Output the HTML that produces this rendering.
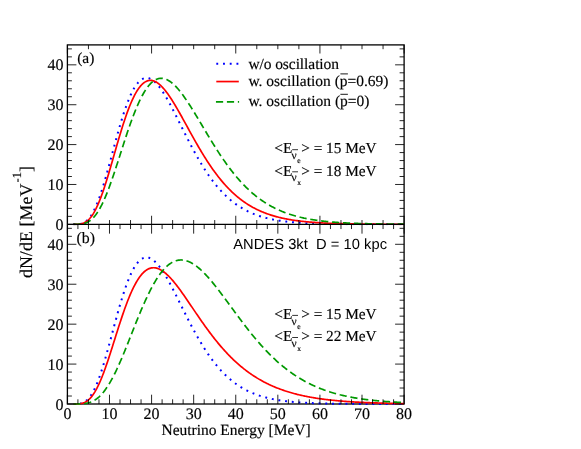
<!DOCTYPE html>
<html><head><meta charset="utf-8"><title>chart</title>
<style>html,body{margin:0;padding:0;background:#fff;overflow:hidden;}svg{display:block;position:absolute;left:0;top:0;will-change:transform;}text{fill:#000;filter:grayscale(1);text-rendering:geometricPrecision;}</style>
</head><body>
<svg width="581" height="449" viewBox="0 0 581 449">
<rect width="581" height="449" fill="#fff"/>
<defs><clipPath id="ca"><rect x="67.4" y="44.9" width="336.70000000000005" height="180.45"/></clipPath><clipPath id="cb"><rect x="67.4" y="224.35" width="336.70000000000005" height="180.65"/></clipPath></defs>

<rect x="67.4" y="44.9" width="336.70000000000005" height="359.1" fill="none" stroke="#000" stroke-width="1.3"/>

<g clip-path="url(#ca)">
<path d="M73.29,224.35 L74.13,224.35 L74.98,224.34 L75.82,224.32 L76.66,224.29 L77.50,224.24 L78.34,224.17 L79.18,224.07 L80.03,223.93 L80.87,223.75 L81.71,223.52 L82.55,223.22 L83.39,222.87 L84.23,222.44 L85.08,221.94 L85.92,221.34 L86.76,220.66 L87.60,219.89 L88.44,219.01 L89.29,218.03 L90.13,216.94 L90.97,215.74 L91.81,214.43 L92.65,213.01 L93.49,211.46 L94.34,209.81 L95.18,208.04 L96.02,206.16 L96.86,204.16 L97.70,202.06 L98.54,199.86 L99.39,197.55 L100.23,195.14 L101.07,192.65 L101.91,190.06 L102.75,187.39 L103.60,184.65 L104.44,181.83 L105.28,178.96 L106.12,176.02 L106.96,173.03 L107.80,170.00 L108.65,166.94 L109.49,163.84 L110.33,160.72 L111.17,157.59 L112.01,154.44 L112.85,151.30 L113.70,148.16 L114.54,145.03 L115.38,141.92 L116.22,138.83 L117.06,135.78 L117.91,132.76 L118.75,129.79 L119.59,126.86 L120.43,123.99 L121.27,121.18 L122.11,118.43 L122.96,115.74 L123.80,113.13 L124.64,110.60 L125.48,108.14 L126.32,105.77 L127.16,103.49 L128.01,101.29 L128.85,99.19 L129.69,97.18 L130.53,95.27 L131.37,93.45 L132.21,91.73 L133.06,90.11 L133.90,88.60 L134.74,87.18 L135.58,85.87 L136.42,84.66 L137.27,83.55 L138.11,82.54 L138.95,81.64 L139.79,80.83 L140.63,80.13 L141.47,79.53 L142.32,79.02 L143.16,78.61 L144.00,78.30 L144.84,78.08 L145.68,77.95 L146.52,77.91 L147.37,77.96 L148.21,78.10 L149.05,78.32 L149.89,78.63 L150.73,79.01 L151.57,79.47 L152.42,80.01 L153.26,80.62 L154.10,81.30 L154.94,82.05 L155.78,82.87 L156.63,83.75 L157.47,84.69 L158.31,85.68 L159.15,86.73 L159.99,87.84 L160.83,89.00 L161.68,90.20 L162.52,91.45 L163.36,92.74 L164.20,94.07 L165.04,95.44 L165.88,96.85 L166.73,98.29 L167.57,99.76 L168.41,101.26 L169.25,102.78 L170.09,104.34 L170.94,105.91 L171.78,107.50 L172.62,109.11 L173.46,110.74 L174.30,112.38 L175.14,114.03 L175.99,115.70 L176.83,117.37 L177.67,119.05 L178.51,120.74 L179.35,122.43 L180.19,124.12 L181.04,125.81 L181.88,127.50 L182.72,129.19 L183.56,130.88 L184.40,132.56 L185.25,134.24 L186.09,135.91 L186.93,137.57 L187.77,139.22 L188.61,140.87 L189.45,142.50 L190.30,144.12 L191.14,145.72 L191.98,147.32 L192.82,148.90 L193.66,150.46 L194.50,152.01 L195.35,153.54 L196.19,155.06 L197.03,156.56 L197.87,158.04 L198.71,159.50 L199.55,160.95 L200.40,162.37 L201.24,163.78 L202.08,165.17 L202.92,166.53 L203.76,167.88 L204.61,169.21 L205.45,170.51 L206.29,171.80 L207.13,173.06 L207.97,174.31 L208.81,175.53 L209.66,176.73 L210.50,177.91 L211.34,179.07 L212.18,180.21 L213.02,181.33 L213.86,182.42 L214.71,183.50 L215.55,184.55 L216.39,185.59 L217.23,186.60 L218.07,187.59 L218.91,188.57 L219.76,189.52 L220.60,190.45 L221.44,191.37 L222.28,192.26 L223.12,193.13 L223.97,193.99 L224.81,194.83 L225.65,195.64 L226.49,196.44 L227.33,197.22 L228.17,197.99 L229.02,198.73 L229.86,199.46 L230.70,200.17 L231.54,200.86 L232.38,201.54 L233.22,202.20 L234.07,202.84 L234.91,203.47 L235.75,204.08 L236.59,204.68 L237.43,205.26 L238.28,205.83 L239.12,206.38 L239.96,206.92 L240.80,207.44 L241.64,207.95 L242.48,208.45 L243.33,208.94 L244.17,209.41 L245.01,209.86 L245.85,210.31 L246.69,210.74 L247.53,211.17 L248.38,211.58 L249.22,211.98 L250.06,212.36 L250.90,212.74 L251.74,213.11 L252.58,213.46 L253.43,213.81 L254.27,214.14 L255.11,214.47 L255.95,214.79 L256.79,215.10 L257.64,215.39 L258.48,215.68 L259.32,215.97 L260.16,216.24 L261.00,216.50 L261.84,216.76 L262.69,217.01 L263.53,217.25 L264.37,217.49 L265.21,217.72 L266.05,217.94 L266.89,218.15 L267.74,218.36 L268.58,218.56 L269.42,218.75 L270.26,218.94 L271.10,219.12 L271.95,219.30 L272.79,219.47 L273.63,219.64 L274.47,219.80 L275.31,219.96 L276.15,220.11 L277.00,220.25 L277.84,220.39 L278.68,220.53 L279.52,220.66 L280.36,220.79 L281.20,220.91 L282.05,221.03 L282.89,221.15 L283.73,221.26 L284.57,221.37 L285.41,221.48 L286.25,221.58 L287.10,221.68 L287.94,221.77 L288.78,221.86 L289.62,221.95 L290.46,222.04 L291.31,222.12 L292.15,222.20 L292.99,222.28 L293.83,222.35 L294.67,222.42 L295.51,222.49 L296.36,222.56 L297.20,222.62 L298.04,222.69 L298.88,222.75 L299.72,222.81 L300.56,222.86 L301.41,222.92 L302.25,222.97 L303.09,223.02 L303.93,223.07 L304.77,223.12 L305.62,223.16 L306.46,223.21 L307.30,223.25 L308.14,223.29 L308.98,223.33 L309.82,223.37 L310.67,223.40 L311.51,223.44 L312.35,223.47 L313.19,223.51 L314.03,223.54 L314.87,223.57 L315.72,223.60 L316.56,223.63 L317.40,223.65 L318.24,223.68 L319.08,223.70 L319.92,223.73 L320.77,223.75 L321.61,223.78 L322.45,223.80 L323.29,223.82 L324.13,223.84 L324.98,223.86 L325.82,223.88 L326.66,223.90 L327.50,223.91 L328.34,223.93 L329.18,223.95 L330.03,223.96 L330.87,223.98 L331.71,223.99 L332.55,224.00 L333.39,224.02 L334.23,224.03 L335.08,224.04 L335.92,224.06 L336.76,224.07 L337.60,224.08 L338.44,224.09 L339.29,224.10 L340.13,224.11 L340.97,224.12 L341.81,224.13 L342.65,224.14 L343.49,224.14 L344.34,224.15 L345.18,224.16 L346.02,224.17 L346.86,224.18 L347.70,224.18 L348.54,224.19 L349.39,224.20 L350.23,224.20 L351.07,224.21 L351.91,224.21 L352.75,224.22 L353.60,224.22 L354.44,224.23 L355.28,224.23 L356.12,224.24 L356.96,224.24 L357.80,224.25 L358.65,224.25 L359.49,224.26 L360.33,224.26 L361.17,224.26 L362.01,224.27 L362.85,224.27 L363.70,224.27 L364.54,224.28 L365.38,224.28 L366.22,224.28 L367.06,224.28 L367.90,224.29 L368.75,224.29 L369.59,224.29 L370.43,224.29 L371.27,224.30 L372.11,224.30 L372.96,224.30 L373.80,224.30 L374.64,224.31 L375.48,224.31 L376.32,224.31 L377.16,224.31 L378.01,224.31 L378.85,224.31 L379.69,224.32 L380.53,224.32 L381.37,224.32 L382.21,224.32 L383.06,224.32 L383.90,224.32 L384.74,224.32 L385.58,224.32 L386.42,224.33 L387.26,224.33 L388.11,224.33 L388.95,224.33 L389.79,224.33 L390.63,224.33 L391.47,224.33 L392.32,224.33 L393.16,224.33 L394.00,224.33 L394.84,224.33 L395.68,224.33 L396.52,224.34 L397.37,224.34 L398.21,224.34 L399.05,224.34 L399.89,224.34 L400.73,224.34 L401.57,224.34 L402.42,224.34 L403.26,224.34 L404.10,224.34" fill="none" stroke="#0000ff" stroke-width="2" stroke-dasharray="1.9 4.82" stroke-dashoffset="0"/>
<path d="M73.29,224.35 L74.13,224.35 L74.98,224.34 L75.82,224.33 L76.66,224.30 L77.50,224.26 L78.34,224.20 L79.18,224.12 L80.03,224.00 L80.87,223.85 L81.71,223.65 L82.55,223.41 L83.39,223.11 L84.23,222.75 L85.08,222.32 L85.92,221.82 L86.76,221.24 L87.60,220.58 L88.44,219.84 L89.29,219.00 L90.13,218.07 L90.97,217.04 L91.81,215.91 L92.65,214.68 L93.49,213.35 L94.34,211.91 L95.18,210.38 L96.02,208.74 L96.86,206.99 L97.70,205.15 L98.54,203.22 L99.39,201.18 L100.23,199.06 L101.07,196.85 L101.91,194.55 L102.75,192.17 L103.60,189.72 L104.44,187.19 L105.28,184.60 L106.12,181.95 L106.96,179.24 L107.80,176.49 L108.65,173.69 L109.49,170.85 L110.33,167.99 L111.17,165.09 L112.01,162.18 L112.85,159.25 L113.70,156.31 L114.54,153.38 L115.38,150.44 L116.22,147.52 L117.06,144.61 L117.91,141.72 L118.75,138.86 L119.59,136.02 L120.43,133.23 L121.27,130.47 L122.11,127.76 L122.96,125.10 L123.80,122.49 L124.64,119.94 L125.48,117.45 L126.32,115.02 L127.16,112.66 L128.01,110.38 L128.85,108.16 L129.69,106.03 L130.53,103.97 L131.37,101.99 L132.21,100.09 L133.06,98.28 L133.90,96.55 L134.74,94.91 L135.58,93.35 L136.42,91.89 L137.27,90.51 L138.11,89.22 L138.95,88.03 L139.79,86.92 L140.63,85.90 L141.47,84.97 L142.32,84.12 L143.16,83.37 L144.00,82.70 L144.84,82.12 L145.68,81.63 L146.52,81.22 L147.37,80.89 L148.21,80.65 L149.05,80.48 L149.89,80.40 L150.73,80.39 L151.57,80.46 L152.42,80.60 L153.26,80.81 L154.10,81.10 L154.94,81.45 L155.78,81.87 L156.63,82.35 L157.47,82.90 L158.31,83.51 L159.15,84.18 L159.99,84.90 L160.83,85.68 L161.68,86.51 L162.52,87.39 L163.36,88.32 L164.20,89.30 L165.04,90.32 L165.88,91.38 L166.73,92.48 L167.57,93.62 L168.41,94.80 L169.25,96.01 L170.09,97.25 L170.94,98.53 L171.78,99.83 L172.62,101.16 L173.46,102.51 L174.30,103.89 L175.14,105.29 L175.99,106.70 L176.83,108.14 L177.67,109.59 L178.51,111.06 L179.35,112.53 L180.19,114.02 L181.04,115.53 L181.88,117.03 L182.72,118.55 L183.56,120.07 L184.40,121.60 L185.25,123.13 L186.09,124.66 L186.93,126.19 L187.77,127.73 L188.61,129.26 L189.45,130.79 L190.30,132.31 L191.14,133.83 L191.98,135.35 L192.82,136.86 L193.66,138.36 L194.50,139.86 L195.35,141.35 L196.19,142.82 L197.03,144.29 L197.87,145.75 L198.71,147.20 L199.55,148.63 L200.40,150.05 L201.24,151.46 L202.08,152.86 L202.92,154.24 L203.76,155.61 L204.61,156.96 L205.45,158.30 L206.29,159.63 L207.13,160.94 L207.97,162.23 L208.81,163.50 L209.66,164.76 L210.50,166.01 L211.34,167.23 L212.18,168.44 L213.02,169.64 L213.86,170.81 L214.71,171.97 L215.55,173.11 L216.39,174.24 L217.23,175.34 L218.07,176.43 L218.91,177.50 L219.76,178.56 L220.60,179.60 L221.44,180.62 L222.28,181.62 L223.12,182.60 L223.97,183.57 L224.81,184.52 L225.65,185.45 L226.49,186.37 L227.33,187.27 L228.17,188.15 L229.02,189.02 L229.86,189.87 L230.70,190.70 L231.54,191.52 L232.38,192.32 L233.22,193.10 L234.07,193.87 L234.91,194.63 L235.75,195.37 L236.59,196.09 L237.43,196.80 L238.28,197.49 L239.12,198.17 L239.96,198.83 L240.80,199.48 L241.64,200.12 L242.48,200.74 L243.33,201.35 L244.17,201.95 L245.01,202.53 L245.85,203.10 L246.69,203.65 L247.53,204.20 L248.38,204.73 L249.22,205.25 L250.06,205.75 L250.90,206.25 L251.74,206.73 L252.58,207.21 L253.43,207.67 L254.27,208.12 L255.11,208.56 L255.95,208.99 L256.79,209.40 L257.64,209.81 L258.48,210.21 L259.32,210.60 L260.16,210.98 L261.00,211.35 L261.84,211.71 L262.69,212.06 L263.53,212.40 L264.37,212.74 L265.21,213.06 L266.05,213.38 L266.89,213.69 L267.74,213.99 L268.58,214.28 L269.42,214.57 L270.26,214.85 L271.10,215.12 L271.95,215.38 L272.79,215.64 L273.63,215.89 L274.47,216.13 L275.31,216.37 L276.15,216.60 L277.00,216.83 L277.84,217.05 L278.68,217.26 L279.52,217.47 L280.36,217.67 L281.20,217.86 L282.05,218.05 L282.89,218.24 L283.73,218.42 L284.57,218.59 L285.41,218.77 L286.25,218.93 L287.10,219.09 L287.94,219.25 L288.78,219.40 L289.62,219.55 L290.46,219.69 L291.31,219.83 L292.15,219.97 L292.99,220.10 L293.83,220.23 L294.67,220.35 L295.51,220.48 L296.36,220.59 L297.20,220.71 L298.04,220.82 L298.88,220.93 L299.72,221.03 L300.56,221.13 L301.41,221.23 L302.25,221.33 L303.09,221.42 L303.93,221.51 L304.77,221.60 L305.62,221.68 L306.46,221.77 L307.30,221.85 L308.14,221.92 L308.98,222.00 L309.82,222.07 L310.67,222.14 L311.51,222.21 L312.35,222.28 L313.19,222.35 L314.03,222.41 L314.87,222.47 L315.72,222.53 L316.56,222.59 L317.40,222.64 L318.24,222.70 L319.08,222.75 L319.92,222.80 L320.77,222.85 L321.61,222.90 L322.45,222.94 L323.29,222.99 L324.13,223.03 L324.98,223.07 L325.82,223.11 L326.66,223.15 L327.50,223.19 L328.34,223.23 L329.18,223.27 L330.03,223.30 L330.87,223.33 L331.71,223.37 L332.55,223.40 L333.39,223.43 L334.23,223.46 L335.08,223.49 L335.92,223.52 L336.76,223.54 L337.60,223.57 L338.44,223.60 L339.29,223.62 L340.13,223.64 L340.97,223.67 L341.81,223.69 L342.65,223.71 L343.49,223.73 L344.34,223.75 L345.18,223.77 L346.02,223.79 L346.86,223.81 L347.70,223.83 L348.54,223.84 L349.39,223.86 L350.23,223.88 L351.07,223.89 L351.91,223.91 L352.75,223.92 L353.60,223.94 L354.44,223.95 L355.28,223.96 L356.12,223.98 L356.96,223.99 L357.80,224.00 L358.65,224.01 L359.49,224.02 L360.33,224.04 L361.17,224.05 L362.01,224.06 L362.85,224.07 L363.70,224.08 L364.54,224.09 L365.38,224.09 L366.22,224.10 L367.06,224.11 L367.90,224.12 L368.75,224.13 L369.59,224.13 L370.43,224.14 L371.27,224.15 L372.11,224.16 L372.96,224.16 L373.80,224.17 L374.64,224.18 L375.48,224.18 L376.32,224.19 L377.16,224.19 L378.01,224.20 L378.85,224.20 L379.69,224.21 L380.53,224.21 L381.37,224.22 L382.21,224.22 L383.06,224.23 L383.90,224.23 L384.74,224.23 L385.58,224.24 L386.42,224.24 L387.26,224.25 L388.11,224.25 L388.95,224.25 L389.79,224.26 L390.63,224.26 L391.47,224.26 L392.32,224.27 L393.16,224.27 L394.00,224.27 L394.84,224.27 L395.68,224.28 L396.52,224.28 L397.37,224.28 L398.21,224.28 L399.05,224.29 L399.89,224.29 L400.73,224.29 L401.57,224.29 L402.42,224.30 L403.26,224.30 L404.10,224.30" fill="none" stroke="#ff0000" stroke-width="1.7"/>
<path d="M73.29,224.35 L74.13,224.35 L74.98,224.35 L75.82,224.34 L76.66,224.32 L77.50,224.30 L78.34,224.27 L79.18,224.22 L80.03,224.16 L80.87,224.07 L81.71,223.96 L82.55,223.82 L83.39,223.65 L84.23,223.44 L85.08,223.18 L85.92,222.88 L86.76,222.54 L87.60,222.13 L88.44,221.68 L89.29,221.16 L90.13,220.57 L90.97,219.92 L91.81,219.20 L92.65,218.41 L93.49,217.54 L94.34,216.60 L95.18,215.58 L96.02,214.48 L96.86,213.30 L97.70,212.04 L98.54,210.69 L99.39,209.27 L100.23,207.77 L101.07,206.19 L101.91,204.54 L102.75,202.81 L103.60,201.00 L104.44,199.12 L105.28,197.17 L106.12,195.15 L106.96,193.07 L107.80,190.93 L108.65,188.72 L109.49,186.47 L110.33,184.16 L111.17,181.80 L112.01,179.39 L112.85,176.95 L113.70,174.47 L114.54,171.96 L115.38,169.41 L116.22,166.85 L117.06,164.26 L117.91,161.66 L118.75,159.04 L119.59,156.42 L120.43,153.79 L121.27,151.16 L122.11,148.53 L122.96,145.92 L123.80,143.31 L124.64,140.72 L125.48,138.15 L126.32,135.61 L127.16,133.09 L128.01,130.60 L128.85,128.14 L129.69,125.72 L130.53,123.33 L131.37,120.99 L132.21,118.70 L133.06,116.45 L133.90,114.25 L134.74,112.11 L135.58,110.02 L136.42,107.99 L137.27,106.01 L138.11,104.10 L138.95,102.24 L139.79,100.46 L140.63,98.73 L141.47,97.08 L142.32,95.49 L143.16,93.97 L144.00,92.51 L144.84,91.13 L145.68,89.82 L146.52,88.58 L147.37,87.41 L148.21,86.31 L149.05,85.29 L149.89,84.33 L150.73,83.45 L151.57,82.64 L152.42,81.90 L153.26,81.23 L154.10,80.63 L154.94,80.11 L155.78,79.65 L156.63,79.26 L157.47,78.93 L158.31,78.68 L159.15,78.49 L159.99,78.36 L160.83,78.30 L161.68,78.30 L162.52,78.36 L163.36,78.49 L164.20,78.67 L165.04,78.91 L165.88,79.21 L166.73,79.56 L167.57,79.97 L168.41,80.42 L169.25,80.93 L170.09,81.49 L170.94,82.10 L171.78,82.76 L172.62,83.46 L173.46,84.20 L174.30,84.99 L175.14,85.82 L175.99,86.68 L176.83,87.59 L177.67,88.53 L178.51,89.51 L179.35,90.52 L180.19,91.56 L181.04,92.63 L181.88,93.73 L182.72,94.86 L183.56,96.02 L184.40,97.20 L185.25,98.40 L186.09,99.63 L186.93,100.87 L187.77,102.14 L188.61,103.42 L189.45,104.72 L190.30,106.04 L191.14,107.37 L191.98,108.71 L192.82,110.07 L193.66,111.44 L194.50,112.81 L195.35,114.20 L196.19,115.59 L197.03,116.99 L197.87,118.39 L198.71,119.80 L199.55,121.22 L200.40,122.63 L201.24,124.05 L202.08,125.47 L202.92,126.88 L203.76,128.30 L204.61,129.72 L205.45,131.13 L206.29,132.54 L207.13,133.94 L207.97,135.35 L208.81,136.74 L209.66,138.13 L210.50,139.52 L211.34,140.89 L212.18,142.26 L213.02,143.62 L213.86,144.97 L214.71,146.32 L215.55,147.65 L216.39,148.97 L217.23,150.29 L218.07,151.59 L218.91,152.88 L219.76,154.16 L220.60,155.43 L221.44,156.69 L222.28,157.93 L223.12,159.16 L223.97,160.38 L224.81,161.58 L225.65,162.77 L226.49,163.95 L227.33,165.11 L228.17,166.26 L229.02,167.40 L229.86,168.52 L230.70,169.63 L231.54,170.72 L232.38,171.80 L233.22,172.86 L234.07,173.91 L234.91,174.94 L235.75,175.96 L236.59,176.97 L237.43,177.96 L238.28,178.93 L239.12,179.89 L239.96,180.84 L240.80,181.77 L241.64,182.68 L242.48,183.58 L243.33,184.47 L244.17,185.34 L245.01,186.20 L245.85,187.04 L246.69,187.87 L247.53,188.69 L248.38,189.49 L249.22,190.27 L250.06,191.04 L250.90,191.80 L251.74,192.55 L252.58,193.28 L253.43,194.00 L254.27,194.70 L255.11,195.39 L255.95,196.07 L256.79,196.73 L257.64,197.39 L258.48,198.03 L259.32,198.65 L260.16,199.27 L261.00,199.87 L261.84,200.46 L262.69,201.04 L263.53,201.60 L264.37,202.16 L265.21,202.70 L266.05,203.24 L266.89,203.76 L267.74,204.27 L268.58,204.77 L269.42,205.25 L270.26,205.73 L271.10,206.20 L271.95,206.66 L272.79,207.11 L273.63,207.54 L274.47,207.97 L275.31,208.39 L276.15,208.80 L277.00,209.20 L277.84,209.59 L278.68,209.97 L279.52,210.35 L280.36,210.71 L281.20,211.07 L282.05,211.42 L282.89,211.76 L283.73,212.09 L284.57,212.42 L285.41,212.73 L286.25,213.04 L287.10,213.34 L287.94,213.64 L288.78,213.93 L289.62,214.21 L290.46,214.48 L291.31,214.75 L292.15,215.01 L292.99,215.26 L293.83,215.51 L294.67,215.75 L295.51,215.99 L296.36,216.22 L297.20,216.44 L298.04,216.66 L298.88,216.88 L299.72,217.08 L300.56,217.29 L301.41,217.48 L302.25,217.68 L303.09,217.86 L303.93,218.05 L304.77,218.22 L305.62,218.40 L306.46,218.57 L307.30,218.73 L308.14,218.89 L308.98,219.05 L309.82,219.20 L310.67,219.35 L311.51,219.49 L312.35,219.63 L313.19,219.77 L314.03,219.90 L314.87,220.03 L315.72,220.15 L316.56,220.27 L317.40,220.39 L318.24,220.51 L319.08,220.62 L319.92,220.73 L320.77,220.84 L321.61,220.94 L322.45,221.04 L323.29,221.14 L324.13,221.23 L324.98,221.33 L325.82,221.42 L326.66,221.50 L327.50,221.59 L328.34,221.67 L329.18,221.75 L330.03,221.83 L330.87,221.91 L331.71,221.98 L332.55,222.05 L333.39,222.12 L334.23,222.19 L335.08,222.25 L335.92,222.32 L336.76,222.38 L337.60,222.44 L338.44,222.50 L339.29,222.55 L340.13,222.61 L340.97,222.66 L341.81,222.72 L342.65,222.77 L343.49,222.81 L344.34,222.86 L345.18,222.91 L346.02,222.95 L346.86,223.00 L347.70,223.04 L348.54,223.08 L349.39,223.12 L350.23,223.16 L351.07,223.19 L351.91,223.23 L352.75,223.27 L353.60,223.30 L354.44,223.33 L355.28,223.37 L356.12,223.40 L356.96,223.43 L357.80,223.46 L358.65,223.48 L359.49,223.51 L360.33,223.54 L361.17,223.56 L362.01,223.59 L362.85,223.61 L363.70,223.64 L364.54,223.66 L365.38,223.68 L366.22,223.70 L367.06,223.72 L367.90,223.74 L368.75,223.76 L369.59,223.78 L370.43,223.80 L371.27,223.82 L372.11,223.84 L372.96,223.85 L373.80,223.87 L374.64,223.89 L375.48,223.90 L376.32,223.91 L377.16,223.93 L378.01,223.94 L378.85,223.96 L379.69,223.97 L380.53,223.98 L381.37,223.99 L382.21,224.01 L383.06,224.02 L383.90,224.03 L384.74,224.04 L385.58,224.05 L386.42,224.06 L387.26,224.07 L388.11,224.08 L388.95,224.09 L389.79,224.10 L390.63,224.10 L391.47,224.11 L392.32,224.12 L393.16,224.13 L394.00,224.14 L394.84,224.14 L395.68,224.15 L396.52,224.16 L397.37,224.16 L398.21,224.17 L399.05,224.18 L399.89,224.18 L400.73,224.19 L401.57,224.19 L402.42,224.20 L403.26,224.20 L404.10,224.21" fill="none" stroke="#009900" stroke-width="1.7" stroke-dasharray="7.2 3.75"/>
</g>
<line x1="67.40" y1="224.35" x2="404.10" y2="224.35" stroke="#000" stroke-width="1.15"/>

<g clip-path="url(#cb)">
<path d="M73.29,404.00 L74.13,404.00 L74.98,403.99 L75.82,403.97 L76.66,403.94 L77.50,403.89 L78.34,403.82 L79.18,403.72 L80.03,403.58 L80.87,403.40 L81.71,403.17 L82.55,402.87 L83.39,402.52 L84.23,402.09 L85.08,401.58 L85.92,400.99 L86.76,400.31 L87.60,399.53 L88.44,398.66 L89.29,397.67 L90.13,396.58 L90.97,395.38 L91.81,394.07 L92.65,392.64 L93.49,391.10 L94.34,389.44 L95.18,387.67 L96.02,385.79 L96.86,383.79 L97.70,381.69 L98.54,379.48 L99.39,377.17 L100.23,374.76 L101.07,372.26 L101.91,369.67 L102.75,367.00 L103.60,364.25 L104.44,361.44 L105.28,358.55 L106.12,355.62 L106.96,352.63 L107.80,349.59 L108.65,346.52 L109.49,343.42 L110.33,340.30 L111.17,337.16 L112.01,334.01 L112.85,330.87 L113.70,327.72 L114.54,324.59 L115.38,321.48 L116.22,318.39 L117.06,315.33 L117.91,312.31 L118.75,309.33 L119.59,306.40 L120.43,303.53 L121.27,300.71 L122.11,297.96 L122.96,295.27 L123.80,292.66 L124.64,290.12 L125.48,287.67 L126.32,285.29 L127.16,283.00 L128.01,280.81 L128.85,278.70 L129.69,276.69 L130.53,274.77 L131.37,272.95 L132.21,271.23 L133.06,269.61 L133.90,268.10 L134.74,266.68 L135.58,265.36 L136.42,264.15 L137.27,263.04 L138.11,262.03 L138.95,261.13 L139.79,260.32 L140.63,259.62 L141.47,259.01 L142.32,258.51 L143.16,258.10 L144.00,257.78 L144.84,257.56 L145.68,257.44 L146.52,257.40 L147.37,257.45 L148.21,257.59 L149.05,257.81 L149.89,258.12 L150.73,258.50 L151.57,258.96 L152.42,259.50 L153.26,260.11 L154.10,260.80 L154.94,261.55 L155.78,262.36 L156.63,263.24 L157.47,264.18 L158.31,265.18 L159.15,266.23 L159.99,267.34 L160.83,268.49 L161.68,269.70 L162.52,270.95 L163.36,272.24 L164.20,273.58 L165.04,274.95 L165.88,276.36 L166.73,277.80 L167.57,279.27 L168.41,280.77 L169.25,282.30 L170.09,283.85 L170.94,285.43 L171.78,287.02 L172.62,288.63 L173.46,290.26 L174.30,291.91 L175.14,293.56 L175.99,295.23 L176.83,296.90 L177.67,298.58 L178.51,300.27 L179.35,301.96 L180.19,303.66 L181.04,305.35 L181.88,307.05 L182.72,308.74 L183.56,310.43 L184.40,312.11 L185.25,313.79 L186.09,315.46 L186.93,317.12 L187.77,318.78 L188.61,320.42 L189.45,322.06 L190.30,323.68 L191.14,325.29 L191.98,326.88 L192.82,328.46 L193.66,330.03 L194.50,331.58 L195.35,333.12 L196.19,334.63 L197.03,336.13 L197.87,337.62 L198.71,339.08 L199.55,340.53 L200.40,341.96 L201.24,343.36 L202.08,344.75 L202.92,346.12 L203.76,347.47 L204.61,348.80 L205.45,350.10 L206.29,351.39 L207.13,352.65 L207.97,353.90 L208.81,355.12 L209.66,356.33 L210.50,357.51 L211.34,358.67 L212.18,359.81 L213.02,360.93 L213.86,362.03 L214.71,363.10 L215.55,364.16 L216.39,365.19 L217.23,366.21 L218.07,367.20 L218.91,368.18 L219.76,369.13 L220.60,370.07 L221.44,370.98 L222.28,371.87 L223.12,372.75 L223.97,373.61 L224.81,374.44 L225.65,375.26 L226.49,376.06 L227.33,376.84 L228.17,377.61 L229.02,378.35 L229.86,379.08 L230.70,379.79 L231.54,380.49 L232.38,381.16 L233.22,381.82 L234.07,382.47 L234.91,383.10 L235.75,383.71 L236.59,384.31 L237.43,384.89 L238.28,385.46 L239.12,386.01 L239.96,386.55 L240.80,387.08 L241.64,387.59 L242.48,388.08 L243.33,388.57 L244.17,389.04 L245.01,389.50 L245.85,389.94 L246.69,390.38 L247.53,390.80 L248.38,391.21 L249.22,391.61 L250.06,392.00 L250.90,392.38 L251.74,392.74 L252.58,393.10 L253.43,393.45 L254.27,393.78 L255.11,394.11 L255.95,394.43 L256.79,394.74 L257.64,395.03 L258.48,395.33 L259.32,395.61 L260.16,395.88 L261.00,396.15 L261.84,396.40 L262.69,396.65 L263.53,396.90 L264.37,397.13 L265.21,397.36 L266.05,397.58 L266.89,397.79 L267.74,398.00 L268.58,398.20 L269.42,398.40 L270.26,398.59 L271.10,398.77 L271.95,398.95 L272.79,399.12 L273.63,399.28 L274.47,399.44 L275.31,399.60 L276.15,399.75 L277.00,399.90 L277.84,400.04 L278.68,400.18 L279.52,400.31 L280.36,400.44 L281.20,400.56 L282.05,400.68 L282.89,400.80 L283.73,400.91 L284.57,401.02 L285.41,401.12 L286.25,401.22 L287.10,401.32 L287.94,401.42 L288.78,401.51 L289.62,401.60 L290.46,401.68 L291.31,401.77 L292.15,401.85 L292.99,401.92 L293.83,402.00 L294.67,402.07 L295.51,402.14 L296.36,402.21 L297.20,402.27 L298.04,402.33 L298.88,402.40 L299.72,402.45 L300.56,402.51 L301.41,402.56 L302.25,402.62 L303.09,402.67 L303.93,402.72 L304.77,402.76 L305.62,402.81 L306.46,402.85 L307.30,402.90 L308.14,402.94 L308.98,402.98 L309.82,403.01 L310.67,403.05 L311.51,403.09 L312.35,403.12 L313.19,403.15 L314.03,403.19 L314.87,403.22 L315.72,403.25 L316.56,403.27 L317.40,403.30 L318.24,403.33 L319.08,403.35 L319.92,403.38 L320.77,403.40 L321.61,403.42 L322.45,403.45 L323.29,403.47 L324.13,403.49 L324.98,403.51 L325.82,403.53 L326.66,403.54 L327.50,403.56 L328.34,403.58 L329.18,403.60 L330.03,403.61 L330.87,403.63 L331.71,403.64 L332.55,403.65 L333.39,403.67 L334.23,403.68 L335.08,403.69 L335.92,403.71 L336.76,403.72 L337.60,403.73 L338.44,403.74 L339.29,403.75 L340.13,403.76 L340.97,403.77 L341.81,403.78 L342.65,403.79 L343.49,403.79 L344.34,403.80 L345.18,403.81 L346.02,403.82 L346.86,403.83 L347.70,403.83 L348.54,403.84 L349.39,403.85 L350.23,403.85 L351.07,403.86 L351.91,403.86 L352.75,403.87 L353.60,403.87 L354.44,403.88 L355.28,403.88 L356.12,403.89 L356.96,403.89 L357.80,403.90 L358.65,403.90 L359.49,403.91 L360.33,403.91 L361.17,403.91 L362.01,403.92 L362.85,403.92 L363.70,403.92 L364.54,403.93 L365.38,403.93 L366.22,403.93 L367.06,403.93 L367.90,403.94 L368.75,403.94 L369.59,403.94 L370.43,403.94 L371.27,403.95 L372.11,403.95 L372.96,403.95 L373.80,403.95 L374.64,403.96 L375.48,403.96 L376.32,403.96 L377.16,403.96 L378.01,403.96 L378.85,403.96 L379.69,403.97 L380.53,403.97 L381.37,403.97 L382.21,403.97 L383.06,403.97 L383.90,403.97 L384.74,403.97 L385.58,403.97 L386.42,403.98 L387.26,403.98 L388.11,403.98 L388.95,403.98 L389.79,403.98 L390.63,403.98 L391.47,403.98 L392.32,403.98 L393.16,403.98 L394.00,403.98 L394.84,403.98 L395.68,403.98 L396.52,403.99 L397.37,403.99 L398.21,403.99 L399.05,403.99 L399.89,403.99 L400.73,403.99 L401.57,403.99 L402.42,403.99 L403.26,403.99 L404.10,403.99" fill="none" stroke="#0000ff" stroke-width="2" stroke-dasharray="1.9 4.82" stroke-dashoffset="0"/>
<path d="M73.29,404.00 L74.13,404.00 L74.98,403.99 L75.82,403.98 L76.66,403.96 L77.50,403.92 L78.34,403.87 L79.18,403.79 L80.03,403.69 L80.87,403.55 L81.71,403.37 L82.55,403.15 L83.39,402.88 L84.23,402.56 L85.08,402.17 L85.92,401.73 L86.76,401.21 L87.60,400.61 L88.44,399.94 L89.29,399.19 L90.13,398.35 L90.97,397.43 L91.81,396.41 L92.65,395.31 L93.49,394.11 L94.34,392.82 L95.18,391.44 L96.02,389.96 L96.86,388.40 L97.70,386.74 L98.54,385.00 L99.39,383.17 L100.23,381.26 L101.07,379.26 L101.91,377.20 L102.75,375.05 L103.60,372.84 L104.44,370.56 L105.28,368.23 L106.12,365.83 L106.96,363.39 L107.80,360.90 L108.65,358.36 L109.49,355.79 L110.33,353.19 L111.17,350.57 L112.01,347.92 L112.85,345.26 L113.70,342.59 L114.54,339.91 L115.38,337.23 L116.22,334.55 L117.06,331.89 L117.91,329.24 L118.75,326.61 L119.59,324.00 L120.43,321.42 L121.27,318.87 L122.11,316.36 L122.96,313.88 L123.80,311.45 L124.64,309.06 L125.48,306.73 L126.32,304.45 L127.16,302.22 L128.01,300.05 L128.85,297.94 L129.69,295.89 L130.53,293.91 L131.37,292.00 L132.21,290.15 L133.06,288.37 L133.90,286.67 L134.74,285.04 L135.58,283.48 L136.42,281.99 L137.27,280.58 L138.11,279.24 L138.95,277.98 L139.79,276.79 L140.63,275.68 L141.47,274.65 L142.32,273.69 L143.16,272.81 L144.00,271.99 L144.84,271.26 L145.68,270.59 L146.52,270.00 L147.37,269.48 L148.21,269.03 L149.05,268.65 L149.89,268.34 L150.73,268.10 L151.57,267.92 L152.42,267.80 L153.26,267.75 L154.10,267.76 L154.94,267.83 L155.78,267.96 L156.63,268.15 L157.47,268.39 L158.31,268.68 L159.15,269.03 L159.99,269.43 L160.83,269.88 L161.68,270.38 L162.52,270.92 L163.36,271.50 L164.20,272.13 L165.04,272.80 L165.88,273.51 L166.73,274.26 L167.57,275.05 L168.41,275.86 L169.25,276.72 L170.09,277.60 L170.94,278.51 L171.78,279.45 L172.62,280.42 L173.46,281.42 L174.30,282.43 L175.14,283.48 L175.99,284.54 L176.83,285.62 L177.67,286.72 L178.51,287.84 L179.35,288.97 L180.19,290.12 L181.04,291.28 L181.88,292.46 L182.72,293.64 L183.56,294.84 L184.40,296.05 L185.25,297.26 L186.09,298.48 L186.93,299.71 L187.77,300.94 L188.61,302.18 L189.45,303.42 L190.30,304.66 L191.14,305.90 L191.98,307.15 L192.82,308.39 L193.66,309.63 L194.50,310.88 L195.35,312.12 L196.19,313.36 L197.03,314.59 L197.87,315.82 L198.71,317.05 L199.55,318.27 L200.40,319.49 L201.24,320.70 L202.08,321.90 L202.92,323.10 L203.76,324.29 L204.61,325.47 L205.45,326.64 L206.29,327.81 L207.13,328.97 L207.97,330.12 L208.81,331.25 L209.66,332.38 L210.50,333.50 L211.34,334.61 L212.18,335.71 L213.02,336.80 L213.86,337.88 L214.71,338.95 L215.55,340.00 L216.39,341.05 L217.23,342.08 L218.07,343.11 L218.91,344.12 L219.76,345.12 L220.60,346.11 L221.44,347.08 L222.28,348.05 L223.12,349.00 L223.97,349.94 L224.81,350.87 L225.65,351.79 L226.49,352.70 L227.33,353.59 L228.17,354.47 L229.02,355.34 L229.86,356.20 L230.70,357.05 L231.54,357.88 L232.38,358.71 L233.22,359.52 L234.07,360.32 L234.91,361.11 L235.75,361.89 L236.59,362.65 L237.43,363.41 L238.28,364.15 L239.12,364.88 L239.96,365.60 L240.80,366.31 L241.64,367.01 L242.48,367.70 L243.33,368.38 L244.17,369.05 L245.01,369.70 L245.85,370.35 L246.69,370.98 L247.53,371.61 L248.38,372.23 L249.22,372.83 L250.06,373.43 L250.90,374.01 L251.74,374.59 L252.58,375.15 L253.43,375.71 L254.27,376.26 L255.11,376.80 L255.95,377.33 L256.79,377.85 L257.64,378.36 L258.48,378.86 L259.32,379.36 L260.16,379.84 L261.00,380.32 L261.84,380.79 L262.69,381.25 L263.53,381.70 L264.37,382.14 L265.21,382.58 L266.05,383.01 L266.89,383.43 L267.74,383.84 L268.58,384.25 L269.42,384.65 L270.26,385.04 L271.10,385.42 L271.95,385.80 L272.79,386.17 L273.63,386.54 L274.47,386.89 L275.31,387.24 L276.15,387.59 L277.00,387.92 L277.84,388.26 L278.68,388.58 L279.52,388.90 L280.36,389.21 L281.20,389.52 L282.05,389.82 L282.89,390.12 L283.73,390.41 L284.57,390.69 L285.41,390.97 L286.25,391.24 L287.10,391.51 L287.94,391.78 L288.78,392.03 L289.62,392.29 L290.46,392.54 L291.31,392.78 L292.15,393.02 L292.99,393.25 L293.83,393.48 L294.67,393.71 L295.51,393.93 L296.36,394.14 L297.20,394.36 L298.04,394.56 L298.88,394.77 L299.72,394.97 L300.56,395.16 L301.41,395.36 L302.25,395.54 L303.09,395.73 L303.93,395.91 L304.77,396.09 L305.62,396.26 L306.46,396.43 L307.30,396.59 L308.14,396.76 L308.98,396.92 L309.82,397.07 L310.67,397.23 L311.51,397.38 L312.35,397.52 L313.19,397.67 L314.03,397.81 L314.87,397.95 L315.72,398.08 L316.56,398.22 L317.40,398.34 L318.24,398.47 L319.08,398.60 L319.92,398.72 L320.77,398.84 L321.61,398.95 L322.45,399.07 L323.29,399.18 L324.13,399.29 L324.98,399.40 L325.82,399.50 L326.66,399.60 L327.50,399.70 L328.34,399.80 L329.18,399.90 L330.03,399.99 L330.87,400.09 L331.71,400.18 L332.55,400.26 L333.39,400.35 L334.23,400.44 L335.08,400.52 L335.92,400.60 L336.76,400.68 L337.60,400.76 L338.44,400.83 L339.29,400.90 L340.13,400.98 L340.97,401.05 L341.81,401.12 L342.65,401.19 L343.49,401.25 L344.34,401.32 L345.18,401.38 L346.02,401.44 L346.86,401.50 L347.70,401.56 L348.54,401.62 L349.39,401.68 L350.23,401.73 L351.07,401.79 L351.91,401.84 L352.75,401.89 L353.60,401.94 L354.44,401.99 L355.28,402.04 L356.12,402.09 L356.96,402.13 L357.80,402.18 L358.65,402.22 L359.49,402.26 L360.33,402.31 L361.17,402.35 L362.01,402.39 L362.85,402.43 L363.70,402.47 L364.54,402.50 L365.38,402.54 L366.22,402.57 L367.06,402.61 L367.90,402.64 L368.75,402.68 L369.59,402.71 L370.43,402.74 L371.27,402.77 L372.11,402.80 L372.96,402.83 L373.80,402.86 L374.64,402.89 L375.48,402.92 L376.32,402.94 L377.16,402.97 L378.01,403.00 L378.85,403.02 L379.69,403.05 L380.53,403.07 L381.37,403.09 L382.21,403.12 L383.06,403.14 L383.90,403.16 L384.74,403.18 L385.58,403.20 L386.42,403.22 L387.26,403.24 L388.11,403.26 L388.95,403.28 L389.79,403.30 L390.63,403.32 L391.47,403.33 L392.32,403.35 L393.16,403.37 L394.00,403.38 L394.84,403.40 L395.68,403.41 L396.52,403.43 L397.37,403.44 L398.21,403.46 L399.05,403.47 L399.89,403.49 L400.73,403.50 L401.57,403.51 L402.42,403.52 L403.26,403.54 L404.10,403.55" fill="none" stroke="#ff0000" stroke-width="1.7"/>
<path d="M73.29,404.00 L74.13,404.00 L74.98,404.00 L75.82,404.00 L76.66,403.99 L77.50,403.98 L78.34,403.97 L79.18,403.95 L80.03,403.92 L80.87,403.88 L81.71,403.84 L82.55,403.77 L83.39,403.70 L84.23,403.61 L85.08,403.49 L85.92,403.36 L86.76,403.20 L87.60,403.02 L88.44,402.80 L89.29,402.56 L90.13,402.28 L90.97,401.97 L91.81,401.62 L92.65,401.23 L93.49,400.81 L94.34,400.33 L95.18,399.82 L96.02,399.26 L96.86,398.65 L97.70,397.99 L98.54,397.28 L99.39,396.53 L100.23,395.72 L101.07,394.86 L101.91,393.94 L102.75,392.97 L103.60,391.95 L104.44,390.88 L105.28,389.75 L106.12,388.57 L106.96,387.34 L107.80,386.05 L108.65,384.72 L109.49,383.33 L110.33,381.89 L111.17,380.41 L112.01,378.87 L112.85,377.29 L113.70,375.67 L114.54,374.00 L115.38,372.29 L116.22,370.54 L117.06,368.75 L117.91,366.92 L118.75,365.06 L119.59,363.17 L120.43,361.24 L121.27,359.29 L122.11,357.31 L122.96,355.30 L123.80,353.27 L124.64,351.23 L125.48,349.16 L126.32,347.08 L127.16,344.98 L128.01,342.88 L128.85,340.76 L129.69,338.64 L130.53,336.52 L131.37,334.39 L132.21,332.26 L133.06,330.13 L133.90,328.01 L134.74,325.90 L135.58,323.79 L136.42,321.69 L137.27,319.61 L138.11,317.54 L138.95,315.49 L139.79,313.46 L140.63,311.44 L141.47,309.45 L142.32,307.48 L143.16,305.54 L144.00,303.63 L144.84,301.74 L145.68,299.88 L146.52,298.06 L147.37,296.27 L148.21,294.51 L149.05,292.79 L149.89,291.10 L150.73,289.46 L151.57,287.85 L152.42,286.28 L153.26,284.75 L154.10,283.26 L154.94,281.82 L155.78,280.42 L156.63,279.06 L157.47,277.75 L158.31,276.49 L159.15,275.27 L159.99,274.09 L160.83,272.96 L161.68,271.88 L162.52,270.85 L163.36,269.86 L164.20,268.92 L165.04,268.03 L165.88,267.19 L166.73,266.39 L167.57,265.64 L168.41,264.94 L169.25,264.29 L170.09,263.68 L170.94,263.12 L171.78,262.61 L172.62,262.14 L173.46,261.73 L174.30,261.35 L175.14,261.03 L175.99,260.74 L176.83,260.51 L177.67,260.31 L178.51,260.16 L179.35,260.06 L180.19,259.99 L181.04,259.97 L181.88,259.99 L182.72,260.05 L183.56,260.15 L184.40,260.29 L185.25,260.47 L186.09,260.69 L186.93,260.95 L187.77,261.24 L188.61,261.56 L189.45,261.93 L190.30,262.32 L191.14,262.75 L191.98,263.22 L192.82,263.71 L193.66,264.24 L194.50,264.79 L195.35,265.38 L196.19,266.00 L197.03,266.64 L197.87,267.31 L198.71,268.01 L199.55,268.73 L200.40,269.47 L201.24,270.25 L202.08,271.04 L202.92,271.86 L203.76,272.69 L204.61,273.55 L205.45,274.43 L206.29,275.33 L207.13,276.24 L207.97,277.18 L208.81,278.13 L209.66,279.09 L210.50,280.07 L211.34,281.07 L212.18,282.08 L213.02,283.10 L213.86,284.14 L214.71,285.18 L215.55,286.24 L216.39,287.31 L217.23,288.38 L218.07,289.47 L218.91,290.57 L219.76,291.67 L220.60,292.78 L221.44,293.89 L222.28,295.01 L223.12,296.14 L223.97,297.27 L224.81,298.41 L225.65,299.55 L226.49,300.69 L227.33,301.83 L228.17,302.98 L229.02,304.13 L229.86,305.28 L230.70,306.43 L231.54,307.58 L232.38,308.73 L233.22,309.87 L234.07,311.02 L234.91,312.17 L235.75,313.31 L236.59,314.45 L237.43,315.59 L238.28,316.72 L239.12,317.85 L239.96,318.98 L240.80,320.10 L241.64,321.22 L242.48,322.33 L243.33,323.44 L244.17,324.54 L245.01,325.64 L245.85,326.73 L246.69,327.82 L247.53,328.89 L248.38,329.96 L249.22,331.03 L250.06,332.08 L250.90,333.13 L251.74,334.18 L252.58,335.21 L253.43,336.24 L254.27,337.25 L255.11,338.26 L255.95,339.26 L256.79,340.26 L257.64,341.24 L258.48,342.22 L259.32,343.18 L260.16,344.14 L261.00,345.09 L261.84,346.03 L262.69,346.95 L263.53,347.87 L264.37,348.78 L265.21,349.69 L266.05,350.58 L266.89,351.46 L267.74,352.33 L268.58,353.19 L269.42,354.05 L270.26,354.89 L271.10,355.72 L271.95,356.54 L272.79,357.36 L273.63,358.16 L274.47,358.95 L275.31,359.74 L276.15,360.51 L277.00,361.27 L277.84,362.03 L278.68,362.77 L279.52,363.51 L280.36,364.23 L281.20,364.95 L282.05,365.65 L282.89,366.35 L283.73,367.03 L284.57,367.71 L285.41,368.37 L286.25,369.03 L287.10,369.68 L287.94,370.32 L288.78,370.95 L289.62,371.57 L290.46,372.18 L291.31,372.78 L292.15,373.37 L292.99,373.96 L293.83,374.53 L294.67,375.10 L295.51,375.65 L296.36,376.20 L297.20,376.74 L298.04,377.27 L298.88,377.79 L299.72,378.31 L300.56,378.81 L301.41,379.31 L302.25,379.80 L303.09,380.28 L303.93,380.75 L304.77,381.22 L305.62,381.68 L306.46,382.13 L307.30,382.57 L308.14,383.00 L308.98,383.43 L309.82,383.85 L310.67,384.26 L311.51,384.67 L312.35,385.07 L313.19,385.46 L314.03,385.84 L314.87,386.22 L315.72,386.59 L316.56,386.95 L317.40,387.31 L318.24,387.66 L319.08,388.01 L319.92,388.35 L320.77,388.68 L321.61,389.00 L322.45,389.32 L323.29,389.64 L324.13,389.94 L324.98,390.25 L325.82,390.54 L326.66,390.83 L327.50,391.12 L328.34,391.40 L329.18,391.67 L330.03,391.94 L330.87,392.21 L331.71,392.46 L332.55,392.72 L333.39,392.97 L334.23,393.21 L335.08,393.45 L335.92,393.68 L336.76,393.91 L337.60,394.14 L338.44,394.36 L339.29,394.57 L340.13,394.79 L340.97,394.99 L341.81,395.20 L342.65,395.40 L343.49,395.59 L344.34,395.78 L345.18,395.97 L346.02,396.15 L346.86,396.33 L347.70,396.51 L348.54,396.68 L349.39,396.85 L350.23,397.01 L351.07,397.17 L351.91,397.33 L352.75,397.49 L353.60,397.64 L354.44,397.79 L355.28,397.93 L356.12,398.07 L356.96,398.21 L357.80,398.35 L358.65,398.48 L359.49,398.61 L360.33,398.74 L361.17,398.86 L362.01,398.98 L362.85,399.10 L363.70,399.22 L364.54,399.33 L365.38,399.45 L366.22,399.55 L367.06,399.66 L367.90,399.76 L368.75,399.87 L369.59,399.97 L370.43,400.06 L371.27,400.16 L372.11,400.25 L372.96,400.34 L373.80,400.43 L374.64,400.52 L375.48,400.60 L376.32,400.69 L377.16,400.77 L378.01,400.85 L378.85,400.92 L379.69,401.00 L380.53,401.07 L381.37,401.15 L382.21,401.22 L383.06,401.29 L383.90,401.35 L384.74,401.42 L385.58,401.48 L386.42,401.55 L387.26,401.61 L388.11,401.67 L388.95,401.72 L389.79,401.78 L390.63,401.84 L391.47,401.89 L392.32,401.94 L393.16,402.00 L394.00,402.05 L394.84,402.10 L395.68,402.14 L396.52,402.19 L397.37,402.24 L398.21,402.28 L399.05,402.33 L399.89,402.37 L400.73,402.41 L401.57,402.45 L402.42,402.49 L403.26,402.53 L404.10,402.57" fill="none" stroke="#009900" stroke-width="1.7" stroke-dasharray="7.2 3.75"/>
</g>
<line x1="67.40" y1="44.90" x2="67.40" y2="53.50" stroke="#000" stroke-width="0.85"/>
<line x1="67.40" y1="224.35" x2="67.40" y2="215.75" stroke="#000" stroke-width="0.85"/>
<line x1="88.44" y1="44.90" x2="88.44" y2="49.20" stroke="#000" stroke-width="0.85"/>
<line x1="88.44" y1="224.35" x2="88.44" y2="220.05" stroke="#000" stroke-width="0.85"/>
<line x1="109.49" y1="44.90" x2="109.49" y2="49.20" stroke="#000" stroke-width="0.85"/>
<line x1="109.49" y1="224.35" x2="109.49" y2="220.05" stroke="#000" stroke-width="0.85"/>
<line x1="130.53" y1="44.90" x2="130.53" y2="49.20" stroke="#000" stroke-width="0.85"/>
<line x1="130.53" y1="224.35" x2="130.53" y2="220.05" stroke="#000" stroke-width="0.85"/>
<line x1="151.58" y1="44.90" x2="151.58" y2="53.50" stroke="#000" stroke-width="0.85"/>
<line x1="151.58" y1="224.35" x2="151.58" y2="215.75" stroke="#000" stroke-width="0.85"/>
<line x1="172.62" y1="44.90" x2="172.62" y2="49.20" stroke="#000" stroke-width="0.85"/>
<line x1="172.62" y1="224.35" x2="172.62" y2="220.05" stroke="#000" stroke-width="0.85"/>
<line x1="193.66" y1="44.90" x2="193.66" y2="49.20" stroke="#000" stroke-width="0.85"/>
<line x1="193.66" y1="224.35" x2="193.66" y2="220.05" stroke="#000" stroke-width="0.85"/>
<line x1="214.71" y1="44.90" x2="214.71" y2="49.20" stroke="#000" stroke-width="0.85"/>
<line x1="214.71" y1="224.35" x2="214.71" y2="220.05" stroke="#000" stroke-width="0.85"/>
<line x1="235.75" y1="44.90" x2="235.75" y2="53.50" stroke="#000" stroke-width="0.85"/>
<line x1="235.75" y1="224.35" x2="235.75" y2="215.75" stroke="#000" stroke-width="0.85"/>
<line x1="256.79" y1="44.90" x2="256.79" y2="49.20" stroke="#000" stroke-width="0.85"/>
<line x1="256.79" y1="224.35" x2="256.79" y2="220.05" stroke="#000" stroke-width="0.85"/>
<line x1="277.84" y1="44.90" x2="277.84" y2="49.20" stroke="#000" stroke-width="0.85"/>
<line x1="277.84" y1="224.35" x2="277.84" y2="220.05" stroke="#000" stroke-width="0.85"/>
<line x1="298.88" y1="44.90" x2="298.88" y2="49.20" stroke="#000" stroke-width="0.85"/>
<line x1="298.88" y1="224.35" x2="298.88" y2="220.05" stroke="#000" stroke-width="0.85"/>
<line x1="319.93" y1="44.90" x2="319.93" y2="53.50" stroke="#000" stroke-width="0.85"/>
<line x1="319.93" y1="224.35" x2="319.93" y2="215.75" stroke="#000" stroke-width="0.85"/>
<line x1="340.97" y1="44.90" x2="340.97" y2="49.20" stroke="#000" stroke-width="0.85"/>
<line x1="340.97" y1="224.35" x2="340.97" y2="220.05" stroke="#000" stroke-width="0.85"/>
<line x1="362.01" y1="44.90" x2="362.01" y2="49.20" stroke="#000" stroke-width="0.85"/>
<line x1="362.01" y1="224.35" x2="362.01" y2="220.05" stroke="#000" stroke-width="0.85"/>
<line x1="383.06" y1="44.90" x2="383.06" y2="49.20" stroke="#000" stroke-width="0.85"/>
<line x1="383.06" y1="224.35" x2="383.06" y2="220.05" stroke="#000" stroke-width="0.85"/>
<line x1="404.10" y1="44.90" x2="404.10" y2="53.50" stroke="#000" stroke-width="0.85"/>
<line x1="404.10" y1="224.35" x2="404.10" y2="215.75" stroke="#000" stroke-width="0.85"/>
<line x1="67.40" y1="224.35" x2="67.40" y2="233.65" stroke="#000" stroke-width="0.85"/>
<line x1="67.40" y1="404.00" x2="67.40" y2="394.70" stroke="#000" stroke-width="0.85"/>
<line x1="77.92" y1="224.35" x2="77.92" y2="229.05" stroke="#000" stroke-width="0.85"/>
<line x1="77.92" y1="404.00" x2="77.92" y2="399.30" stroke="#000" stroke-width="0.85"/>
<line x1="88.44" y1="224.35" x2="88.44" y2="229.05" stroke="#000" stroke-width="0.85"/>
<line x1="88.44" y1="404.00" x2="88.44" y2="399.30" stroke="#000" stroke-width="0.85"/>
<line x1="98.97" y1="224.35" x2="98.97" y2="229.05" stroke="#000" stroke-width="0.85"/>
<line x1="98.97" y1="404.00" x2="98.97" y2="399.30" stroke="#000" stroke-width="0.85"/>
<line x1="109.49" y1="224.35" x2="109.49" y2="233.65" stroke="#000" stroke-width="0.85"/>
<line x1="109.49" y1="404.00" x2="109.49" y2="394.70" stroke="#000" stroke-width="0.85"/>
<line x1="120.01" y1="224.35" x2="120.01" y2="229.05" stroke="#000" stroke-width="0.85"/>
<line x1="120.01" y1="404.00" x2="120.01" y2="399.30" stroke="#000" stroke-width="0.85"/>
<line x1="130.53" y1="224.35" x2="130.53" y2="229.05" stroke="#000" stroke-width="0.85"/>
<line x1="130.53" y1="404.00" x2="130.53" y2="399.30" stroke="#000" stroke-width="0.85"/>
<line x1="141.05" y1="224.35" x2="141.05" y2="229.05" stroke="#000" stroke-width="0.85"/>
<line x1="141.05" y1="404.00" x2="141.05" y2="399.30" stroke="#000" stroke-width="0.85"/>
<line x1="151.58" y1="224.35" x2="151.58" y2="233.65" stroke="#000" stroke-width="0.85"/>
<line x1="151.58" y1="404.00" x2="151.58" y2="394.70" stroke="#000" stroke-width="0.85"/>
<line x1="162.10" y1="224.35" x2="162.10" y2="229.05" stroke="#000" stroke-width="0.85"/>
<line x1="162.10" y1="404.00" x2="162.10" y2="399.30" stroke="#000" stroke-width="0.85"/>
<line x1="172.62" y1="224.35" x2="172.62" y2="229.05" stroke="#000" stroke-width="0.85"/>
<line x1="172.62" y1="404.00" x2="172.62" y2="399.30" stroke="#000" stroke-width="0.85"/>
<line x1="183.14" y1="224.35" x2="183.14" y2="229.05" stroke="#000" stroke-width="0.85"/>
<line x1="183.14" y1="404.00" x2="183.14" y2="399.30" stroke="#000" stroke-width="0.85"/>
<line x1="193.66" y1="224.35" x2="193.66" y2="233.65" stroke="#000" stroke-width="0.85"/>
<line x1="193.66" y1="404.00" x2="193.66" y2="394.70" stroke="#000" stroke-width="0.85"/>
<line x1="204.18" y1="224.35" x2="204.18" y2="229.05" stroke="#000" stroke-width="0.85"/>
<line x1="204.18" y1="404.00" x2="204.18" y2="399.30" stroke="#000" stroke-width="0.85"/>
<line x1="214.71" y1="224.35" x2="214.71" y2="229.05" stroke="#000" stroke-width="0.85"/>
<line x1="214.71" y1="404.00" x2="214.71" y2="399.30" stroke="#000" stroke-width="0.85"/>
<line x1="225.23" y1="224.35" x2="225.23" y2="229.05" stroke="#000" stroke-width="0.85"/>
<line x1="225.23" y1="404.00" x2="225.23" y2="399.30" stroke="#000" stroke-width="0.85"/>
<line x1="235.75" y1="224.35" x2="235.75" y2="233.65" stroke="#000" stroke-width="0.85"/>
<line x1="235.75" y1="404.00" x2="235.75" y2="394.70" stroke="#000" stroke-width="0.85"/>
<line x1="246.27" y1="224.35" x2="246.27" y2="229.05" stroke="#000" stroke-width="0.85"/>
<line x1="246.27" y1="404.00" x2="246.27" y2="399.30" stroke="#000" stroke-width="0.85"/>
<line x1="256.79" y1="224.35" x2="256.79" y2="229.05" stroke="#000" stroke-width="0.85"/>
<line x1="256.79" y1="404.00" x2="256.79" y2="399.30" stroke="#000" stroke-width="0.85"/>
<line x1="267.32" y1="224.35" x2="267.32" y2="229.05" stroke="#000" stroke-width="0.85"/>
<line x1="267.32" y1="404.00" x2="267.32" y2="399.30" stroke="#000" stroke-width="0.85"/>
<line x1="277.84" y1="224.35" x2="277.84" y2="233.65" stroke="#000" stroke-width="0.85"/>
<line x1="277.84" y1="404.00" x2="277.84" y2="394.70" stroke="#000" stroke-width="0.85"/>
<line x1="288.36" y1="224.35" x2="288.36" y2="229.05" stroke="#000" stroke-width="0.85"/>
<line x1="288.36" y1="404.00" x2="288.36" y2="399.30" stroke="#000" stroke-width="0.85"/>
<line x1="298.88" y1="224.35" x2="298.88" y2="229.05" stroke="#000" stroke-width="0.85"/>
<line x1="298.88" y1="404.00" x2="298.88" y2="399.30" stroke="#000" stroke-width="0.85"/>
<line x1="309.40" y1="224.35" x2="309.40" y2="229.05" stroke="#000" stroke-width="0.85"/>
<line x1="309.40" y1="404.00" x2="309.40" y2="399.30" stroke="#000" stroke-width="0.85"/>
<line x1="319.93" y1="224.35" x2="319.93" y2="233.65" stroke="#000" stroke-width="0.85"/>
<line x1="319.93" y1="404.00" x2="319.93" y2="394.70" stroke="#000" stroke-width="0.85"/>
<line x1="330.45" y1="224.35" x2="330.45" y2="229.05" stroke="#000" stroke-width="0.85"/>
<line x1="330.45" y1="404.00" x2="330.45" y2="399.30" stroke="#000" stroke-width="0.85"/>
<line x1="340.97" y1="224.35" x2="340.97" y2="229.05" stroke="#000" stroke-width="0.85"/>
<line x1="340.97" y1="404.00" x2="340.97" y2="399.30" stroke="#000" stroke-width="0.85"/>
<line x1="351.49" y1="224.35" x2="351.49" y2="229.05" stroke="#000" stroke-width="0.85"/>
<line x1="351.49" y1="404.00" x2="351.49" y2="399.30" stroke="#000" stroke-width="0.85"/>
<line x1="362.01" y1="224.35" x2="362.01" y2="233.65" stroke="#000" stroke-width="0.85"/>
<line x1="362.01" y1="404.00" x2="362.01" y2="394.70" stroke="#000" stroke-width="0.85"/>
<line x1="372.53" y1="224.35" x2="372.53" y2="229.05" stroke="#000" stroke-width="0.85"/>
<line x1="372.53" y1="404.00" x2="372.53" y2="399.30" stroke="#000" stroke-width="0.85"/>
<line x1="383.06" y1="224.35" x2="383.06" y2="229.05" stroke="#000" stroke-width="0.85"/>
<line x1="383.06" y1="404.00" x2="383.06" y2="399.30" stroke="#000" stroke-width="0.85"/>
<line x1="393.58" y1="224.35" x2="393.58" y2="229.05" stroke="#000" stroke-width="0.85"/>
<line x1="393.58" y1="404.00" x2="393.58" y2="399.30" stroke="#000" stroke-width="0.85"/>
<line x1="404.10" y1="224.35" x2="404.10" y2="233.65" stroke="#000" stroke-width="0.85"/>
<line x1="404.10" y1="404.00" x2="404.10" y2="394.70" stroke="#000" stroke-width="0.85"/>
<line x1="67.40" y1="224.35" x2="76.40" y2="224.35" stroke="#000" stroke-width="0.85"/>
<line x1="404.10" y1="224.35" x2="395.10" y2="224.35" stroke="#000" stroke-width="0.85"/>
<line x1="67.40" y1="404.00" x2="76.40" y2="404.00" stroke="#000" stroke-width="0.85"/>
<line x1="404.10" y1="404.00" x2="395.10" y2="404.00" stroke="#000" stroke-width="0.85"/>
<line x1="67.40" y1="216.37" x2="71.90" y2="216.37" stroke="#000" stroke-width="0.85"/>
<line x1="404.10" y1="216.37" x2="399.60" y2="216.37" stroke="#000" stroke-width="0.85"/>
<line x1="67.40" y1="396.02" x2="71.90" y2="396.02" stroke="#000" stroke-width="0.85"/>
<line x1="404.10" y1="396.02" x2="399.60" y2="396.02" stroke="#000" stroke-width="0.85"/>
<line x1="67.40" y1="208.40" x2="71.90" y2="208.40" stroke="#000" stroke-width="0.85"/>
<line x1="404.10" y1="208.40" x2="399.60" y2="208.40" stroke="#000" stroke-width="0.85"/>
<line x1="67.40" y1="388.03" x2="71.90" y2="388.03" stroke="#000" stroke-width="0.85"/>
<line x1="404.10" y1="388.03" x2="399.60" y2="388.03" stroke="#000" stroke-width="0.85"/>
<line x1="67.40" y1="200.42" x2="71.90" y2="200.42" stroke="#000" stroke-width="0.85"/>
<line x1="404.10" y1="200.42" x2="399.60" y2="200.42" stroke="#000" stroke-width="0.85"/>
<line x1="67.40" y1="380.05" x2="71.90" y2="380.05" stroke="#000" stroke-width="0.85"/>
<line x1="404.10" y1="380.05" x2="399.60" y2="380.05" stroke="#000" stroke-width="0.85"/>
<line x1="67.40" y1="192.45" x2="71.90" y2="192.45" stroke="#000" stroke-width="0.85"/>
<line x1="404.10" y1="192.45" x2="399.60" y2="192.45" stroke="#000" stroke-width="0.85"/>
<line x1="67.40" y1="372.06" x2="71.90" y2="372.06" stroke="#000" stroke-width="0.85"/>
<line x1="404.10" y1="372.06" x2="399.60" y2="372.06" stroke="#000" stroke-width="0.85"/>
<line x1="67.40" y1="184.47" x2="76.40" y2="184.47" stroke="#000" stroke-width="0.85"/>
<line x1="404.10" y1="184.47" x2="395.10" y2="184.47" stroke="#000" stroke-width="0.85"/>
<line x1="67.40" y1="364.08" x2="76.40" y2="364.08" stroke="#000" stroke-width="0.85"/>
<line x1="404.10" y1="364.08" x2="395.10" y2="364.08" stroke="#000" stroke-width="0.85"/>
<line x1="67.40" y1="176.50" x2="71.90" y2="176.50" stroke="#000" stroke-width="0.85"/>
<line x1="404.10" y1="176.50" x2="399.60" y2="176.50" stroke="#000" stroke-width="0.85"/>
<line x1="67.40" y1="356.09" x2="71.90" y2="356.09" stroke="#000" stroke-width="0.85"/>
<line x1="404.10" y1="356.09" x2="399.60" y2="356.09" stroke="#000" stroke-width="0.85"/>
<line x1="67.40" y1="168.52" x2="71.90" y2="168.52" stroke="#000" stroke-width="0.85"/>
<line x1="404.10" y1="168.52" x2="399.60" y2="168.52" stroke="#000" stroke-width="0.85"/>
<line x1="67.40" y1="348.11" x2="71.90" y2="348.11" stroke="#000" stroke-width="0.85"/>
<line x1="404.10" y1="348.11" x2="399.60" y2="348.11" stroke="#000" stroke-width="0.85"/>
<line x1="67.40" y1="160.55" x2="71.90" y2="160.55" stroke="#000" stroke-width="0.85"/>
<line x1="404.10" y1="160.55" x2="399.60" y2="160.55" stroke="#000" stroke-width="0.85"/>
<line x1="67.40" y1="340.12" x2="71.90" y2="340.12" stroke="#000" stroke-width="0.85"/>
<line x1="404.10" y1="340.12" x2="399.60" y2="340.12" stroke="#000" stroke-width="0.85"/>
<line x1="67.40" y1="152.57" x2="71.90" y2="152.57" stroke="#000" stroke-width="0.85"/>
<line x1="404.10" y1="152.57" x2="399.60" y2="152.57" stroke="#000" stroke-width="0.85"/>
<line x1="67.40" y1="332.14" x2="71.90" y2="332.14" stroke="#000" stroke-width="0.85"/>
<line x1="404.10" y1="332.14" x2="399.60" y2="332.14" stroke="#000" stroke-width="0.85"/>
<line x1="67.40" y1="144.59" x2="76.40" y2="144.59" stroke="#000" stroke-width="0.85"/>
<line x1="404.10" y1="144.59" x2="395.10" y2="144.59" stroke="#000" stroke-width="0.85"/>
<line x1="67.40" y1="324.16" x2="76.40" y2="324.16" stroke="#000" stroke-width="0.85"/>
<line x1="404.10" y1="324.16" x2="395.10" y2="324.16" stroke="#000" stroke-width="0.85"/>
<line x1="67.40" y1="136.62" x2="71.90" y2="136.62" stroke="#000" stroke-width="0.85"/>
<line x1="404.10" y1="136.62" x2="399.60" y2="136.62" stroke="#000" stroke-width="0.85"/>
<line x1="67.40" y1="316.17" x2="71.90" y2="316.17" stroke="#000" stroke-width="0.85"/>
<line x1="404.10" y1="316.17" x2="399.60" y2="316.17" stroke="#000" stroke-width="0.85"/>
<line x1="67.40" y1="128.64" x2="71.90" y2="128.64" stroke="#000" stroke-width="0.85"/>
<line x1="404.10" y1="128.64" x2="399.60" y2="128.64" stroke="#000" stroke-width="0.85"/>
<line x1="67.40" y1="308.19" x2="71.90" y2="308.19" stroke="#000" stroke-width="0.85"/>
<line x1="404.10" y1="308.19" x2="399.60" y2="308.19" stroke="#000" stroke-width="0.85"/>
<line x1="67.40" y1="120.67" x2="71.90" y2="120.67" stroke="#000" stroke-width="0.85"/>
<line x1="404.10" y1="120.67" x2="399.60" y2="120.67" stroke="#000" stroke-width="0.85"/>
<line x1="67.40" y1="300.20" x2="71.90" y2="300.20" stroke="#000" stroke-width="0.85"/>
<line x1="404.10" y1="300.20" x2="399.60" y2="300.20" stroke="#000" stroke-width="0.85"/>
<line x1="67.40" y1="112.69" x2="71.90" y2="112.69" stroke="#000" stroke-width="0.85"/>
<line x1="404.10" y1="112.69" x2="399.60" y2="112.69" stroke="#000" stroke-width="0.85"/>
<line x1="67.40" y1="292.22" x2="71.90" y2="292.22" stroke="#000" stroke-width="0.85"/>
<line x1="404.10" y1="292.22" x2="399.60" y2="292.22" stroke="#000" stroke-width="0.85"/>
<line x1="67.40" y1="104.72" x2="76.40" y2="104.72" stroke="#000" stroke-width="0.85"/>
<line x1="404.10" y1="104.72" x2="395.10" y2="104.72" stroke="#000" stroke-width="0.85"/>
<line x1="67.40" y1="284.23" x2="76.40" y2="284.23" stroke="#000" stroke-width="0.85"/>
<line x1="404.10" y1="284.23" x2="395.10" y2="284.23" stroke="#000" stroke-width="0.85"/>
<line x1="67.40" y1="96.74" x2="71.90" y2="96.74" stroke="#000" stroke-width="0.85"/>
<line x1="404.10" y1="96.74" x2="399.60" y2="96.74" stroke="#000" stroke-width="0.85"/>
<line x1="67.40" y1="276.25" x2="71.90" y2="276.25" stroke="#000" stroke-width="0.85"/>
<line x1="404.10" y1="276.25" x2="399.60" y2="276.25" stroke="#000" stroke-width="0.85"/>
<line x1="67.40" y1="88.77" x2="71.90" y2="88.77" stroke="#000" stroke-width="0.85"/>
<line x1="404.10" y1="88.77" x2="399.60" y2="88.77" stroke="#000" stroke-width="0.85"/>
<line x1="67.40" y1="268.26" x2="71.90" y2="268.26" stroke="#000" stroke-width="0.85"/>
<line x1="404.10" y1="268.26" x2="399.60" y2="268.26" stroke="#000" stroke-width="0.85"/>
<line x1="67.40" y1="80.79" x2="71.90" y2="80.79" stroke="#000" stroke-width="0.85"/>
<line x1="404.10" y1="80.79" x2="399.60" y2="80.79" stroke="#000" stroke-width="0.85"/>
<line x1="67.40" y1="260.28" x2="71.90" y2="260.28" stroke="#000" stroke-width="0.85"/>
<line x1="404.10" y1="260.28" x2="399.60" y2="260.28" stroke="#000" stroke-width="0.85"/>
<line x1="67.40" y1="72.81" x2="71.90" y2="72.81" stroke="#000" stroke-width="0.85"/>
<line x1="404.10" y1="72.81" x2="399.60" y2="72.81" stroke="#000" stroke-width="0.85"/>
<line x1="67.40" y1="252.30" x2="71.90" y2="252.30" stroke="#000" stroke-width="0.85"/>
<line x1="404.10" y1="252.30" x2="399.60" y2="252.30" stroke="#000" stroke-width="0.85"/>
<line x1="67.40" y1="64.84" x2="76.40" y2="64.84" stroke="#000" stroke-width="0.85"/>
<line x1="404.10" y1="64.84" x2="395.10" y2="64.84" stroke="#000" stroke-width="0.85"/>
<line x1="67.40" y1="244.31" x2="76.40" y2="244.31" stroke="#000" stroke-width="0.85"/>
<line x1="404.10" y1="244.31" x2="395.10" y2="244.31" stroke="#000" stroke-width="0.85"/>
<line x1="67.40" y1="56.86" x2="71.90" y2="56.86" stroke="#000" stroke-width="0.85"/>
<line x1="404.10" y1="56.86" x2="399.60" y2="56.86" stroke="#000" stroke-width="0.85"/>
<line x1="67.40" y1="236.33" x2="71.90" y2="236.33" stroke="#000" stroke-width="0.85"/>
<line x1="404.10" y1="236.33" x2="399.60" y2="236.33" stroke="#000" stroke-width="0.85"/>
<line x1="67.40" y1="48.89" x2="71.90" y2="48.89" stroke="#000" stroke-width="0.85"/>
<line x1="404.10" y1="48.89" x2="399.60" y2="48.89" stroke="#000" stroke-width="0.85"/>
<line x1="67.40" y1="228.34" x2="71.90" y2="228.34" stroke="#000" stroke-width="0.85"/>
<line x1="404.10" y1="228.34" x2="399.60" y2="228.34" stroke="#000" stroke-width="0.85"/>
<text x="63.50" y="229.85" font-size="16.0" text-anchor="end" font-family="Liberation Serif, serif" stroke="#000" stroke-width="0.16" >0</text>
<text x="63.50" y="409.50" font-size="16.0" text-anchor="end" font-family="Liberation Serif, serif" stroke="#000" stroke-width="0.16" >0</text>
<text x="63.50" y="189.97" font-size="16.0" text-anchor="end" font-family="Liberation Serif, serif" stroke="#000" stroke-width="0.16" >10</text>
<text x="63.50" y="369.58" font-size="16.0" text-anchor="end" font-family="Liberation Serif, serif" stroke="#000" stroke-width="0.16" >10</text>
<text x="63.50" y="150.09" font-size="16.0" text-anchor="end" font-family="Liberation Serif, serif" stroke="#000" stroke-width="0.16" >20</text>
<text x="63.50" y="329.66" font-size="16.0" text-anchor="end" font-family="Liberation Serif, serif" stroke="#000" stroke-width="0.16" >20</text>
<text x="63.50" y="110.22" font-size="16.0" text-anchor="end" font-family="Liberation Serif, serif" stroke="#000" stroke-width="0.16" >30</text>
<text x="63.50" y="289.73" font-size="16.0" text-anchor="end" font-family="Liberation Serif, serif" stroke="#000" stroke-width="0.16" >30</text>
<text x="63.50" y="70.34" font-size="16.0" text-anchor="end" font-family="Liberation Serif, serif" stroke="#000" stroke-width="0.16" >40</text>
<text x="63.50" y="249.81" font-size="16.0" text-anchor="end" font-family="Liberation Serif, serif" stroke="#000" stroke-width="0.16" >40</text>
<text x="67.40" y="419.30" font-size="16.0" text-anchor="middle" font-family="Liberation Serif, serif" stroke="#000" stroke-width="0.16" >0</text>
<text x="109.49" y="419.30" font-size="16.0" text-anchor="middle" font-family="Liberation Serif, serif" stroke="#000" stroke-width="0.16" >10</text>
<text x="151.58" y="419.30" font-size="16.0" text-anchor="middle" font-family="Liberation Serif, serif" stroke="#000" stroke-width="0.16" >20</text>
<text x="193.66" y="419.30" font-size="16.0" text-anchor="middle" font-family="Liberation Serif, serif" stroke="#000" stroke-width="0.16" >30</text>
<text x="235.75" y="419.30" font-size="16.0" text-anchor="middle" font-family="Liberation Serif, serif" stroke="#000" stroke-width="0.16" >40</text>
<text x="277.84" y="419.30" font-size="16.0" text-anchor="middle" font-family="Liberation Serif, serif" stroke="#000" stroke-width="0.16" >50</text>
<text x="319.93" y="419.30" font-size="16.0" text-anchor="middle" font-family="Liberation Serif, serif" stroke="#000" stroke-width="0.16" >60</text>
<text x="362.01" y="419.30" font-size="16.0" text-anchor="middle" font-family="Liberation Serif, serif" stroke="#000" stroke-width="0.16" >70</text>
<text x="404.10" y="419.30" font-size="16.0" text-anchor="middle" font-family="Liberation Serif, serif" stroke="#000" stroke-width="0.16" >80</text>
<text x="161.50" y="434.80" font-size="15.5" text-anchor="start" font-family="Liberation Serif, serif" stroke="#000" stroke-width="0.16"  textLength="149.2" lengthAdjust="spacing">Neutrino Energy [MeV]</text>
<text transform="translate(31.7,278.1) rotate(-90)" font-size="17.8" textLength="94.5" lengthAdjust="spacing" font-family="Liberation Serif, serif" stroke="#000" stroke-width="0.16">dN/dE [MeV</text>
<text transform="translate(20.7,182.4) rotate(-90)" font-size="12.6" font-family="Liberation Serif, serif" stroke="#000" stroke-width="0.16">-1</text>
<text transform="translate(31.7,171.9) rotate(-90)" font-size="17.8" font-family="Liberation Serif, serif" stroke="#000" stroke-width="0.16">]</text>
<text x="77.20" y="63.10" font-size="15.5" text-anchor="start" font-family="Liberation Serif, serif" stroke="#000" stroke-width="0.16" >(a)</text>
<text x="76.60" y="242.80" font-size="15.8" text-anchor="start" font-family="Liberation Serif, serif" stroke="#000" stroke-width="0.16" >(b)</text>
<line x1="216.3" y1="63.8" x2="238.8" y2="63.8" stroke="#0000ff" stroke-width="2" stroke-dasharray="1.9 4.82"/>
<line x1="216.3" y1="81.55" x2="238.8" y2="81.55" stroke="#ff0000" stroke-width="1.7"/>
<line x1="215.95" y1="101.9" x2="239.1" y2="101.9" stroke="#009900" stroke-width="1.7" stroke-dasharray="7.2 3.75"/>
<text x="248.40" y="69.30" font-size="15.5" text-anchor="start" font-family="Liberation Serif, serif" stroke="#000" stroke-width="0.16"  textLength="90.6" lengthAdjust="spacing">w/o oscillation</text>
<text x="248.40" y="86.00" font-size="15.5" text-anchor="start" font-family="Liberation Serif, serif" stroke="#000" stroke-width="0.16"  textLength="140.1" lengthAdjust="spacing">w. oscillation (p=0.69)</text>
<text x="248.40" y="105.90" font-size="15.5" text-anchor="start" font-family="Liberation Serif, serif" stroke="#000" stroke-width="0.16"  textLength="121.1" lengthAdjust="spacing">w. oscillation (p=0)</text>
<line x1="340.40" y1="73.90" x2="347.90" y2="73.90" stroke="#000" stroke-width="0.9"/>
<line x1="340.40" y1="94.30" x2="347.90" y2="94.30" stroke="#000" stroke-width="0.9"/>
<text x="274.30" y="153.40" font-size="15.3" text-anchor="start" font-family="Liberation Serif, serif" stroke="#000" stroke-width="0.16" >&lt;E</text>
<text x="291.50" y="159.10" font-size="11.322000000000001" text-anchor="start" font-family="Liberation Serif, serif" stroke="#000" stroke-width="0.16" stroke-width="0.05">&#957;</text>
<line x1="292.20" y1="149.70" x2="298.00" y2="149.70" stroke="#000" stroke-width="0.8"/>
<text x="297.30" y="163.20" font-size="7.65" text-anchor="start" font-family="Liberation Serif, serif" stroke="#000" stroke-width="0.16" stroke-width="0">e</text>
<text x="301.20" y="153.40" font-size="15.3" text-anchor="start" font-family="Liberation Serif, serif" stroke="#000" stroke-width="0.16" >&gt; = 15 MeV</text>
<text x="274.30" y="175.50" font-size="15.3" text-anchor="start" font-family="Liberation Serif, serif" stroke="#000" stroke-width="0.16" >&lt;E</text>
<text x="291.50" y="181.20" font-size="11.322000000000001" text-anchor="start" font-family="Liberation Serif, serif" stroke="#000" stroke-width="0.16" stroke-width="0.05">&#957;</text>
<line x1="292.20" y1="171.80" x2="298.00" y2="171.80" stroke="#000" stroke-width="0.8"/>
<text x="297.30" y="185.30" font-size="7.65" text-anchor="start" font-family="Liberation Serif, serif" stroke="#000" stroke-width="0.16" stroke-width="0">x</text>
<text x="301.20" y="175.50" font-size="15.3" text-anchor="start" font-family="Liberation Serif, serif" stroke="#000" stroke-width="0.16" >&gt; = 18 MeV</text>
<text x="274.30" y="319.10" font-size="15.3" text-anchor="start" font-family="Liberation Serif, serif" stroke="#000" stroke-width="0.16" >&lt;E</text>
<text x="291.50" y="324.80" font-size="11.322000000000001" text-anchor="start" font-family="Liberation Serif, serif" stroke="#000" stroke-width="0.16" stroke-width="0.05">&#957;</text>
<line x1="292.20" y1="315.40" x2="298.00" y2="315.40" stroke="#000" stroke-width="0.8"/>
<text x="297.30" y="328.90" font-size="7.65" text-anchor="start" font-family="Liberation Serif, serif" stroke="#000" stroke-width="0.16" stroke-width="0">e</text>
<text x="301.20" y="319.10" font-size="15.3" text-anchor="start" font-family="Liberation Serif, serif" stroke="#000" stroke-width="0.16" >&gt; = 15 MeV</text>
<text x="274.30" y="341.20" font-size="15.3" text-anchor="start" font-family="Liberation Serif, serif" stroke="#000" stroke-width="0.16" >&lt;E</text>
<text x="291.50" y="346.90" font-size="11.322000000000001" text-anchor="start" font-family="Liberation Serif, serif" stroke="#000" stroke-width="0.16" stroke-width="0.05">&#957;</text>
<line x1="292.20" y1="337.50" x2="298.00" y2="337.50" stroke="#000" stroke-width="0.8"/>
<text x="297.30" y="351.00" font-size="7.65" text-anchor="start" font-family="Liberation Serif, serif" stroke="#000" stroke-width="0.16" stroke-width="0">x</text>
<text x="301.20" y="341.20" font-size="15.3" text-anchor="start" font-family="Liberation Serif, serif" stroke="#000" stroke-width="0.16" >&gt; = 22 MeV</text>
<text x="233.3" y="248.6" font-size="14.7" textLength="153.7" lengthAdjust="spacing" font-family="Liberation Sans, sans-serif" xml:space="preserve">ANDES 3kt  D = 10 kpc</text>

</svg>
</body></html>
